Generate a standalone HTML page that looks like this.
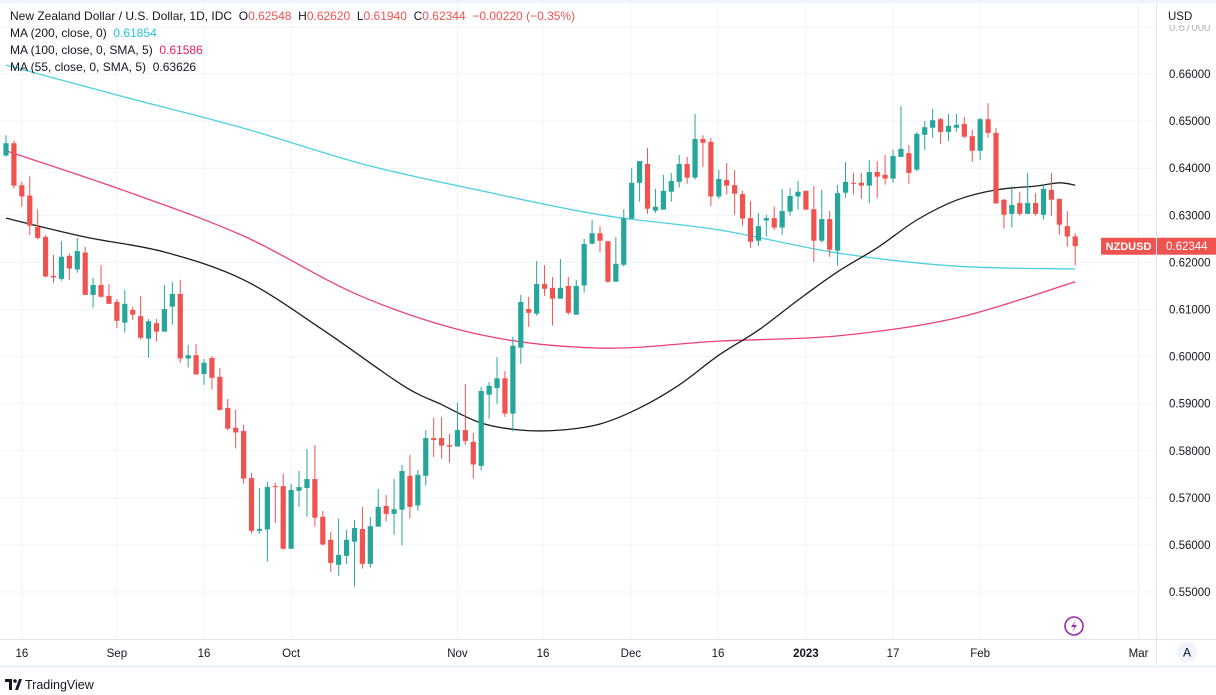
<!DOCTYPE html>
<html><head><meta charset="utf-8"><style>
html,body{margin:0;padding:0;background:#fff;width:1216px;height:695px;overflow:hidden;font-family:"Liberation Sans",sans-serif}
#wrap{position:relative;width:1216px;height:695px}
.lg{position:absolute;left:10px;font-size:12px;color:#131722;white-space:nowrap}
</style></head><body>
<div id="wrap">
<svg id="chart" width="1216" height="695" style="position:absolute;left:0;top:0"></svg>
<div class="lg" style="top:9px">New Zealand Dollar / U.S. Dollar, 1D, IDC&nbsp; O<span style="color:#ef5350">0.62548</span>&nbsp; H<span style="color:#ef5350">0.62620</span>&nbsp; L<span style="color:#ef5350">0.61940</span>&nbsp; C<span style="color:#ef5350">0.62344</span>&nbsp; <span style="color:#ef5350">−0.00220 (−0.35%)</span></div>
<div class="lg" style="top:26px">MA (200, close, 0)&nbsp; <span style="color:#26c6da">0.61854</span></div>
<div class="lg" style="top:43px">MA (100, close, 0, SMA, 5)&nbsp; <span style="color:#e91e63">0.61586</span></div>
<div class="lg" style="top:60px">MA (55, close, 0, SMA, 5)&nbsp; 0.63626</div>
</div>
<script>
const opens=[0.6427,0.6453,0.6364,0.6342,0.6275,0.6254,0.6171,0.6165,0.6214,0.6185,0.6221,0.6131,0.6152,0.6129,0.6116,0.6072,0.6099,0.6086,0.6038,0.6071,0.6053,0.6106,0.6133,0.5996,0.6003,0.5963,0.5997,0.5957,0.5891,0.5849,0.5842,0.5742,0.5630,0.5633,0.5725,0.5725,0.5592,0.5715,0.5721,0.5740,0.5660,0.5611,0.5558,0.5577,0.5607,0.5634,0.5560,0.5639,0.5683,0.5666,0.5675,0.5747,0.5684,0.5747,0.5827,0.5827,0.5812,0.5809,0.5844,0.5819,0.5768,0.5919,0.5933,0.5954,0.5879,0.6019,0.6101,0.6091,0.6154,0.6146,0.6123,0.6150,0.6089,0.6151,0.6240,0.6262,0.6245,0.6159,0.6195,0.6293,0.6369,0.6409,0.6310,0.6312,0.6350,0.6371,0.6409,0.6380,0.6462,0.6456,0.6340,0.6375,0.6364,0.6345,0.6294,0.6246,0.6289,0.6294,0.6274,0.6308,0.6340,0.6352,0.6313,0.6246,0.6292,0.6225,0.6348,0.6369,0.6369,0.6363,0.6392,0.6386,0.6378,0.6424,0.6432,0.6397,0.6471,0.6486,0.6504,0.6477,0.6486,0.6494,0.6468,0.6437,0.6504,0.6475,0.6333,0.6303,0.6326,0.6303,0.6326,0.6301,0.6354,0.6335,0.6277,0.6255];
const highs=[0.6470,0.6458,0.6371,0.6383,0.6313,0.6258,0.6216,0.6245,0.6219,0.6252,0.6233,0.6167,0.6194,0.6154,0.6122,0.6141,0.6105,0.6129,0.6080,0.6080,0.6152,0.6158,0.6163,0.6025,0.6027,0.5995,0.6001,0.5976,0.5910,0.5887,0.5855,0.5753,0.5721,0.5734,0.5732,0.5751,0.5730,0.5757,0.5804,0.5812,0.5672,0.5628,0.5656,0.5632,0.5653,0.5681,0.5660,0.5719,0.5706,0.5740,0.5770,0.5791,0.5759,0.5844,0.5870,0.5872,0.5836,0.5902,0.5942,0.5838,0.5936,0.5946,0.5999,0.5969,0.6042,0.6131,0.6127,0.6203,0.6194,0.6169,0.6207,0.6169,0.6163,0.6250,0.6290,0.6277,0.6245,0.6254,0.6313,0.6400,0.6415,0.6443,0.6356,0.6386,0.6390,0.6428,0.6424,0.6515,0.6470,0.6464,0.6396,0.6411,0.6396,0.6352,0.6330,0.6305,0.6301,0.6318,0.6356,0.6358,0.6373,0.6352,0.6362,0.6354,0.6309,0.6364,0.6413,0.6390,0.6390,0.6417,0.6415,0.6428,0.6439,0.6532,0.6449,0.6477,0.6500,0.6526,0.6507,0.6515,0.6515,0.6509,0.6481,0.6507,0.6538,0.6485,0.6335,0.6362,0.6350,0.6390,0.6347,0.6367,0.6390,0.6335,0.6309,0.6262];
const lows=[0.6424,0.6357,0.6318,0.6258,0.6249,0.6168,0.6157,0.6161,0.6163,0.6178,0.6131,0.6104,0.6125,0.6112,0.6061,0.6051,0.6078,0.6036,0.5998,0.6032,0.6053,0.6068,0.5987,0.5977,0.5962,0.5940,0.5930,0.5885,0.5843,0.5805,0.5730,0.5624,0.5624,0.5565,0.5647,0.5590,0.5592,0.5681,0.5660,0.5639,0.5599,0.5543,0.5535,0.5560,0.5512,0.5550,0.5552,0.5639,0.5650,0.5622,0.5599,0.5656,0.5673,0.5726,0.5787,0.5783,0.5775,0.5809,0.5813,0.5741,0.5758,0.5868,0.5900,0.5872,0.5841,0.5985,0.6063,0.6087,0.6129,0.6066,0.6123,0.6089,0.6089,0.6136,0.6238,0.6221,0.6157,0.6159,0.6191,0.6293,0.6329,0.6303,0.6305,0.6312,0.6329,0.6359,0.6367,0.6376,0.6403,0.6320,0.6335,0.6344,0.6301,0.6278,0.6231,0.6235,0.6255,0.6269,0.6259,0.6299,0.6312,0.6312,0.6201,0.6242,0.6212,0.6193,0.6337,0.6344,0.6335,0.6325,0.6337,0.6365,0.6369,0.6424,0.6367,0.6393,0.6439,0.6465,0.6452,0.6458,0.6477,0.6463,0.6414,0.6418,0.6465,0.6325,0.6272,0.6274,0.6299,0.6303,0.6299,0.6291,0.6299,0.6259,0.6233,0.6194];
const closes=[0.6453,0.6363,0.6340,0.6278,0.6252,0.6170,0.6168,0.6212,0.6187,0.6224,0.6131,0.6152,0.6127,0.6112,0.6076,0.6112,0.6089,0.6040,0.6075,0.6053,0.6101,0.6133,0.5996,0.6003,0.5962,0.5987,0.5955,0.5887,0.5847,0.5839,0.5741,0.5630,0.5634,0.5723,0.5724,0.5592,0.5717,0.5723,0.5740,0.5658,0.5601,0.5562,0.5579,0.5611,0.5636,0.5560,0.5640,0.5681,0.5666,0.5676,0.5757,0.5681,0.5749,0.5827,0.5823,0.5811,0.5809,0.5844,0.5821,0.5771,0.5927,0.5938,0.5954,0.5879,0.6023,0.6116,0.6093,0.6154,0.6144,0.6123,0.6146,0.6093,0.6150,0.6239,0.6262,0.6246,0.6159,0.6197,0.6294,0.6369,0.6415,0.6314,0.6318,0.6352,0.6373,0.6409,0.6380,0.6462,0.6454,0.6340,0.6377,0.6363,0.6346,0.6293,0.6244,0.6277,0.6294,0.6274,0.6309,0.6341,0.6350,0.6312,0.6246,0.6292,0.6227,0.6347,0.6371,0.6367,0.6363,0.6392,0.6382,0.6378,0.6426,0.6441,0.6390,0.6473,0.6487,0.6502,0.6477,0.6490,0.6492,0.6467,0.6437,0.6504,0.6475,0.6325,0.6301,0.6322,0.6303,0.6326,0.6303,0.6356,0.6333,0.6280,0.6255,0.62344];
const maIdx=[0,15,30,45,60,75,90,105,120,135];
const ma200=[0.6619,0.6551,0.6485,0.6409,0.6352,0.6301,0.6269,0.6220,0.6192,0.6186];
const ma100=[0.6437,0.6352,0.6256,0.6127,0.6046,0.6018,0.6033,0.6044,0.6082,0.6159];
const ma55Idx=[0,10,20,30,40,50,55,60,65,70,75,80,85,90,95,100,105,110,115,120,125,130,133,135];
const ma55=[0.6294,0.6254,0.6222,0.6163,0.6057,0.5940,0.5898,0.5859,0.5844,0.5844,0.5857,0.5891,0.5940,0.6003,0.6056,0.6120,0.6180,0.6231,0.6290,0.6332,0.6354,0.6362,0.6369,0.6364];
const priceTicks=[0.67,0.66,0.65,0.64,0.63,0.62,0.61,0.60,0.59,0.58,0.57,0.56,0.55];
const dateLabels=["16","Sep","16","Oct","Nov","16","Dec","16","2023","17","Feb","Mar"];
const dateIdx=[2,14,25,36,57,67.8,78.9,89.9,101,112,123,143];
const lastPrice=0.62344;

const NS="http://www.w3.org/2000/svg";
const svg=document.getElementById('chart');
const PW=1156, PH=639;
function y(p){return 74+(0.66-p)*4710;}
function x(i){return 6+i*7.92;}
function el(t,a,parent){const e=document.createElementNS(NS,t);for(const k in a)e.setAttribute(k,a[k]);(parent||svg).appendChild(e);return e;}

priceTicks.forEach(p=>{const g=el('line',{x1:0,x2:PW,y1:y(p),y2:y(p),stroke:'#f0f3fa','stroke-width':1});

});
dateIdx.forEach(i=>{const g=el('line',{x1:x(i),x2:x(i),y1:0,y2:PH,stroke:'#f0f3fa','stroke-width':1});

});
const b1=el('line',{x1:PW+0.5,x2:PW+0.5,y1:0,y2:666,stroke:'#e0e3eb'});


const b2=el('line',{x1:0,x2:1216,y1:PH+0.5,y2:PH+0.5,stroke:'#e0e3eb'});


const b3=el('rect',{x:0,y:665,width:1216,height:3,fill:'#f0f3fa'});


const b4=el('rect',{x:0,y:0,width:1216,height:3,fill:'#f0f3fa'});



function line(idx,vals,color,name){
  const pts=idx.map((i,k)=>[x(i),y(vals[k])]);
  let d='M'+pts[0][0].toFixed(1)+' '+pts[0][1].toFixed(1);
  for(let k=0;k<pts.length-1;k++){
    const p0=pts[Math.max(0,k-1)],p1=pts[k],p2=pts[k+1],p3=pts[Math.min(pts.length-1,k+2)];
    const c1x=p1[0]+(p2[0]-p0[0])/6,c1y=p1[1]+(p2[1]-p0[1])/6;
    const c2x=p2[0]-(p3[0]-p1[0])/6,c2y=p2[1]-(p3[1]-p1[1])/6;
    d+=' C'+c1x.toFixed(1)+' '+c1y.toFixed(1)+' '+c2x.toFixed(1)+' '+c2y.toFixed(1)+' '+p2[0].toFixed(1)+' '+p2[1].toFixed(1);
  }
  const p=el('path',{d:d,fill:'none',stroke:color,'stroke-width':1.3});
  
  
}
line(maIdx,ma200,'#4dd0e1','ma200-line');
line(maIdx,ma100,'#ec407a','ma100-line');
line(ma55Idx,ma55,'#1e1e1e','ma55-line');

for(let i=0;i<opens.length;i++){
  const up=closes[i]>=opens[i];const c=up?'#26a69a':'#ef5350';
  const cx=x(i);
  const g=el('g',{});
  
  
  el('line',{x1:cx,x2:cx,y1:y(highs[i]),y2:y(lows[i]),stroke:c,'stroke-width':1},g);
  const t=Math.min(y(opens[i]),y(closes[i])),h=Math.max(1,Math.abs(y(opens[i])-y(closes[i])));
  el('rect',{x:cx-2.6,y:t,width:5.2,height:h,fill:c},g);
}

priceTicks.forEach(p=>{const t=el('text',{x:1169,y:y(p)+4,'font-size':11.5,fill:p>0.665?'#b2b5be':'#131722','font-family':'Liberation Sans, sans-serif'});
t.textContent=p.toFixed(5);

});
const usdBg=el('rect',{x:1160,y:3,width:56,height:22,fill:'#fff'});


const usd=el('text',{x:1168,y:20,'font-size':11.5,fill:'#131722'});usd.textContent='USD';



dateLabels.forEach((s,k)=>{const t=el('text',{x:x(dateIdx[k]),y:657,'font-size':11.5,fill:'#131722','text-anchor':'middle','font-weight':s==='2023'?'bold':'normal'});
t.textContent=s;

});

const ly=y(lastPrice);
const sb=el('rect',{x:1101,y:ly-8.5,width:55,height:17,fill:'#ef5350',rx:1});


const st=el('text',{x:1128.5,y:ly+4,'font-size':11,fill:'#fff','text-anchor':'middle','font-weight':'bold'});st.textContent='NZDUSD';


const pb=el('rect',{x:1157,y:ly-8.5,width:59,height:17,fill:'#ef5350'});


const pt=el('text',{x:1166,y:ly+4,'font-size':11.5,fill:'#fff'});pt.textContent=lastPrice.toFixed(5);



const li=el('g',{});


el('circle',{cx:1074,cy:626,r:9,fill:'none',stroke:'#9c27b0','stroke-width':1.6},li);
el('path',{d:'M1076 620 L1071 627 L1074.5 627 L1072 632 L1077 625 L1073.5 625 Z',fill:'#9c27b0'},li);
const ab=el('g',{});


el('circle',{cx:1187,cy:652,r:10,fill:'#f0f3fa'},ab);
const at=el('text',{x:1187,y:656.5,'font-size':12,fill:'#131722','text-anchor':'middle'},ab);at.textContent='A';

const lg=el('g',{});


el('path',{d:'M5 679 h7 v11 h-3 v-8 h-4 Z',fill:'#131722'},lg);
el('circle',{cx:15,cy:681,r:1.8,fill:'#131722'},lg);
el('path',{d:'M15 690 L19 679 L22 679 L18 690 Z',fill:'#131722'},lg);
const lt=el('text',{x:25,y:689,'font-size':12.5,fill:'#131722'},lg);lt.textContent='TradingView';
</script>
</body></html>
